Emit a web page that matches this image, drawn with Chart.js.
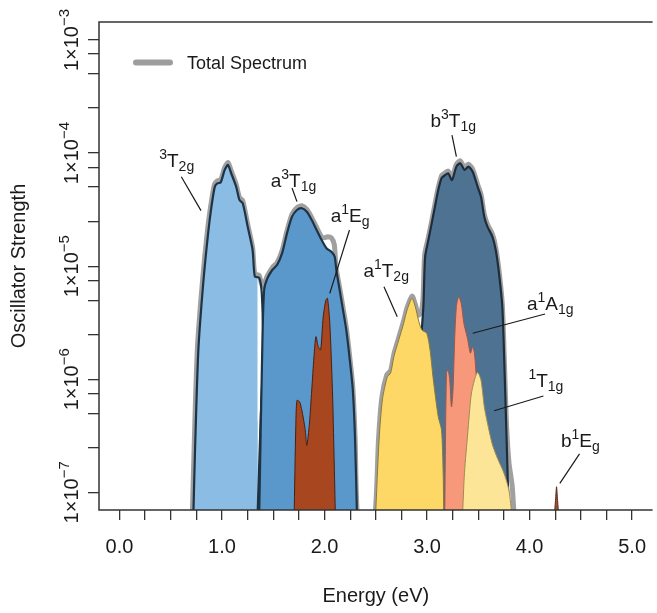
<!DOCTYPE html>
<html>
<head>
<meta charset="utf-8">
<script src="https://cdn.jsdelivr.net/npm/chart.js@4.4.1/dist/chart.umd.min.js"></script>
<style>
html, body { margin: 0; padding: 0; overflow: hidden; background: #fff; }
#wrap { width: 661px; height: 613px; position: relative; }
</style>
</head>
<body>
<div id="wrap"><canvas id="chart"></canvas></div>
<script>
// axis ticks
var xTickValues = [0, 0.25, 0.5, 0.75, 1, 1.25, 1.5, 1.75, 2, 2.25, 2.5, 2.75, 3, 3.25, 3.5, 3.75, 4, 4.25, 4.5, 4.75, 5];
var yLabelPowers = [-3, -4, -5, -6, -7];
var yMinorFactors = [2.5, 5, 7.5];

// spectra: [energy (eV), oscillator strength]
var totalSpectrum = [
  [0.71, 6e-8], [0.728, 2.5e-7], [0.76, 1.9e-6], [0.81, 7.5e-6], [0.858, 2.07e-5], [0.892, 3.5e-5],
  [0.927, 5.3e-5], [0.955, 5.7e-5], [0.987, 5.8e-5], [1.026, 7.45e-5], [1.058, 8.25e-5], [1.09, 6.95e-5],
  [1.138, 5.3e-5], [1.17, 4.05e-5], [1.202, 3.8e-5], [1.25, 2.35e-5], [1.298, 1.46e-5], [1.32, 8.5e-6],
  [1.362, 8.3e-6], [1.385, 7e-6], [1.40, 6.6e-6], [1.42, 7.3e-6], [1.442, 8.2e-6], [1.49, 9.7e-6],
  [1.538, 1.08e-5], [1.587, 1.38e-5], [1.635, 2.07e-5], [1.683, 2.88e-5], [1.731, 3.3e-5], [1.779, 3.42e-5],
  [1.827, 3.18e-5], [1.875, 2.69e-5], [1.923, 2.2e-5], [1.971, 1.82e-5], [2.0, 1.78e-5], [2.03, 1.82e-5],
  [2.067, 1.78e-5], [2.095, 1.55e-5], [2.112, 9.7e-6], [2.147, 6.5e-6], [2.18, 4.3e-6], [2.212, 2.87e-6],
  [2.243, 1.66e-6], [2.276, 8.4e-7], [2.298, 3.05e-7], [2.322, 6e-8], [2.40, 3e-8],
  [2.49, 6e-8], [2.527, 3e-7], [2.559, 6.9e-7], [2.608, 1.1e-6], [2.644, 1.19e-6], [2.676, 1.66e-6],
  [2.724, 2.34e-6], [2.772, 3.29e-6], [2.805, 4.3e-6], [2.853, 5.45e-6], [2.885, 4.6e-6], [2.916, 3.7e-6],
  [2.945, 4.0e-6], [2.962, 5.5e-6], [2.977, 1.27e-5], [3.013, 1.8e-5], [3.045, 2.5e-5], [3.077, 3.53e-5],
  [3.109, 4.95e-5], [3.141, 6.3e-5], [3.157, 6.5e-5], [3.205, 6.95e-5], [3.243, 6.07e-5], [3.286, 7.97e-5],
  [3.324, 8.54e-5], [3.365, 7.46e-5], [3.404, 7.97e-5], [3.445, 7.2e-5], [3.493, 5.3e-5], [3.526, 4.32e-5],
  [3.558, 2.88e-5], [3.589, 2.35e-5], [3.638, 1.91e-5], [3.67, 1.46e-5], [3.702, 9.1e-6], [3.734, 4.6e-6],
  [3.757, 1.2e-6], [3.776, 3.8e-7], [3.80, 1.8e-7], [3.83, 1.15e-7], [3.85, 6e-8]
];
var t2g = [
  [0.72, 6e-8], [0.737, 2.4e-7], [0.769, 1.8e-6], [0.817, 7.1e-6], [0.865, 1.97e-5], [0.897, 3.36e-5],
  [0.93, 5.05e-5], [0.955, 5.4e-5], [0.987, 5.5e-5], [1.026, 7.1e-5], [1.058, 7.85e-5], [1.09, 6.6e-5],
  [1.138, 5.05e-5], [1.17, 3.85e-5], [1.202, 3.6e-5], [1.25, 2.24e-5], [1.298, 1.39e-5], [1.32, 8.1e-6],
  [1.362, 7.9e-6], [1.385, 6.2e-6], [1.397, 3.6e-6], [1.404, 1.8e-6], [1.378, 4.7e-7], [1.346, 6e-8]
];
var a3t1g = [
  [1.362, 6e-8], [1.394, 2.2e-6], [1.411, 6.2e-6], [1.442, 7.8e-6], [1.49, 9.25e-6], [1.538, 1.03e-5],
  [1.587, 1.31e-5], [1.635, 1.97e-5], [1.683, 2.74e-5], [1.731, 3.14e-5], [1.779, 3.25e-5], [1.827, 3.03e-5],
  [1.875, 2.56e-5], [1.923, 2.09e-5], [1.971, 1.71e-5], [2.019, 1.44e-5], [2.067, 1.34e-5], [2.099, 1.21e-5],
  [2.115, 9.25e-6], [2.147, 6.2e-6], [2.18, 4.1e-6], [2.212, 2.73e-6], [2.243, 1.58e-6], [2.276, 8e-7],
  [2.298, 2.9e-7], [2.317, 6e-8]
];
var a1eg = [
  [1.703, 6e-8], [1.72, 4e-7], [1.731, 6.5e-7], [1.757, 6.3e-7], [1.779, 5.3e-7], [1.811, 3.6e-7],
  [1.827, 2.6e-7], [1.853, 4.1e-7], [1.875, 8e-7], [1.897, 1.58e-6], [1.916, 2.38e-6], [1.939, 1.94e-6],
  [1.962, 1.82e-6], [1.987, 3.57e-6], [2.013, 5.0e-6], [2.029, 5.2e-6], [2.051, 3.15e-6], [2.077, 8e-7],
  [2.093, 2.07e-7], [2.106, 6e-8]
];
var b3t1g = [
  [2.87, 6e-8], [2.90, 4e-7], [2.93, 1.6e-6], [2.964, 4.4e-6], [2.981, 1.21e-5], [3.013, 1.71e-5],
  [3.045, 2.39e-5], [3.077, 3.36e-5], [3.109, 4.72e-5], [3.141, 6.0e-5], [3.157, 6.19e-5], [3.205, 6.62e-5],
  [3.243, 5.78e-5], [3.286, 7.59e-5], [3.324, 8.13e-5], [3.365, 7.1e-5], [3.404, 7.59e-5], [3.445, 6.85e-5],
  [3.493, 5.05e-5], [3.526, 4.11e-5], [3.558, 2.74e-5], [3.589, 2.24e-5], [3.638, 1.82e-5], [3.67, 1.39e-5],
  [3.702, 8.65e-6], [3.734, 4.39e-6], [3.757, 1.13e-6], [3.776, 2.9e-7], [3.798, 6e-8]
];
var a1t2g = [
  [2.497, 6e-8], [2.532, 2.9e-7], [2.564, 6.56e-7], [2.612, 1.05e-6], [2.644, 1.13e-6], [2.676, 1.58e-6],
  [2.724, 2.23e-6], [2.772, 3.13e-6], [2.805, 4.1e-6], [2.853, 5.2e-6], [2.885, 4.39e-6], [2.916, 3.34e-6],
  [2.949, 2.73e-6], [2.997, 2.55e-6], [3.029, 1.82e-6], [3.061, 9.9e-7], [3.109, 4.67e-7], [3.141, 3.56e-7],
  [3.157, 1.49e-7], [3.163, 6e-8]
];
var a1a1g = [
  [3.172, 6e-8], [3.189, 1.13e-6], [3.205, 1.21e-6], [3.221, 9.9e-7], [3.238, 5.7e-7], [3.253, 8e-7],
  [3.269, 2.23e-6], [3.286, 4.39e-6], [3.308, 5.37e-6], [3.333, 4.7e-6], [3.359, 3.13e-6], [3.382, 2.55e-6],
  [3.397, 2.23e-6], [3.423, 1.7e-6], [3.445, 1.94e-6], [3.462, 1.7e-6], [3.478, 1.13e-6], [3.51, 4e-7],
  [3.54, 1.2e-7], [3.56, 6e-8]
];
var t1g = [
  [3.345, 6e-8], [3.365, 1.49e-7], [3.397, 3.35e-7], [3.43, 7.26e-7], [3.462, 9.86e-7], [3.493, 1.15e-6],
  [3.526, 9.86e-7], [3.558, 5.73e-7], [3.589, 4.11e-7], [3.638, 2.63e-7], [3.686, 2.01e-7], [3.75, 1.48e-7],
  [3.798, 1.05e-7], [3.83, 6e-8]
];
var b1eg = [
  [4.24, 6e-8], [4.253, 8.5e-8], [4.263, 1.12e-7], [4.273, 8.5e-8], [4.286, 6e-8]
];

// state labels: text parts, label anchor [x, y], leader line from / to
var stateLabels = [
  { parts: [['3', 'sup'], ['T', ''], ['2g', 'sub']], at: [0.558, 7.53e-5], from: [0.603, 6.18e-5], to: [0.795, 3.1e-5] },
  { parts: [['a', ''], ['3', 'sup'], ['T', ''], ['1g', 'sub']], at: [1.697, 5.01e-5], from: [1.683, 4.91e-5], to: [1.731, 3.72e-5] },
  { parts: [['a', ''], ['1', 'sup'], ['E', ''], ['g', 'sub']], at: [2.25, 2.46e-5], from: [2.243, 2.09e-5], to: [2.051, 5.75e-6] },
  { parts: [['a', ''], ['1', 'sup'], ['T', ''], ['2g', 'sub']], at: [2.601, 8.04e-6], from: [2.58, 6.59e-6], to: [2.709, 3.57e-6] },
  { parts: [['b', ''], ['3', 'sup'], ['T', ''], ['1g', 'sub']], at: [3.255, 1.7e-4], from: [3.243, 1.445e-4], to: [3.286, 9.29e-5] },
  { parts: [['a', ''], ['1', 'sup'], ['A', ''], ['1g', 'sub']], at: [4.202, 4.1e-6], from: [4.151, 3.78e-6], to: [3.445, 2.55e-6] },
  { parts: [['1', 'sup'], ['T', ''], ['1g', 'sub']], at: [4.159, 8.55e-7], from: [4.135, 7.11e-7], to: [3.654, 5.27e-7] },
  { parts: [['b', ''], ['1', 'sup'], ['E', ''], ['g', 'sub']], at: [4.495, 2.52e-7], from: [4.487, 2.19e-7], to: [4.295, 1.2e-7] }
];

var FONT = '"Liberation Sans", Arial, Helvetica, sans-serif';
var INK = '#1a1a1a';

function pts(arr) {
  return arr.map(function(p) { return { x: p[0], y: p[1] }; });
}

function area(label, data, fillCol, lineCol, lw, order) {
  return {
    label: label, data: pts(data), backgroundColor: fillCol, borderColor: lineCol,
    borderWidth: lw, fill: 'start', pointRadius: 0, tension: 0.25, order: order, clip: 0,
    borderJoinStyle: 'round'
  };
}

var overlay = {
  id: 'overlay',
  afterDraw: function(chart) {
    var ctx = chart.ctx, a = chart.chartArea, xs = chart.scales.x, ys = chart.scales.y;
    ctx.save();
    // plot box
    ctx.strokeStyle = '#333';
    ctx.lineWidth = 1.5;
    ctx.beginPath();
    ctx.moveTo(a.right, a.top);
    ctx.lineTo(a.left, a.top);
    ctx.lineTo(a.left, a.bottom);
    ctx.lineTo(a.right, a.bottom);
    ctx.stroke();

    ctx.fillStyle = INK;
    // y tick labels 1x10^n, rotated
    yLabelPowers.forEach(function(p) {
      var py = ys.getPixelForValue(Math.pow(10, p));
      ctx.save();
      ctx.translate(78, py);
      ctx.rotate(-Math.PI / 2);
      ctx.font = '20px ' + FONT;
      var main = '1\u00d710';
      var wm = ctx.measureText(main).width;
      ctx.font = '15px ' + FONT;
      var sup = '\u2212' + Math.abs(p);
      var ws = ctx.measureText(sup).width;
      var x0 = -(wm + ws) / 2;
      ctx.textBaseline = 'alphabetic';
      ctx.textAlign = 'left';
      ctx.font = '20px ' + FONT;
      ctx.fillText(main, x0, 0);
      ctx.font = '15px ' + FONT;
      ctx.fillText(sup, x0 + wm, -9);
      ctx.restore();
    });

    // axis titles
    ctx.font = '20px ' + FONT;
    ctx.textAlign = 'center';
    ctx.textBaseline = 'alphabetic';
    ctx.fillText('Energy (eV)', (a.left + a.right) / 2, 602);
    ctx.save();
    ctx.translate(25, (a.top + a.bottom) / 2);
    ctx.rotate(-Math.PI / 2);
    ctx.fillText('Oscillator Strength', 0, 0);
    ctx.restore();

    // legend
    ctx.strokeStyle = '#9d9d9d';
    ctx.lineWidth = 6;
    ctx.lineCap = 'round';
    ctx.beginPath();
    ctx.moveTo(136, 62.5);
    ctx.lineTo(170, 62.5);
    ctx.stroke();
    ctx.lineCap = 'butt';
    ctx.font = '18px ' + FONT;
    ctx.textAlign = 'left';
    ctx.fillText('Total Spectrum', 187, 69);

    // state labels with leader lines
    stateLabels.forEach(function(l) {
      ctx.strokeStyle = INK;
      ctx.lineWidth = 1.2;
      ctx.beginPath();
      ctx.moveTo(xs.getPixelForValue(l.from[0]), ys.getPixelForValue(l.from[1]));
      ctx.lineTo(xs.getPixelForValue(l.to[0]), ys.getPixelForValue(l.to[1]));
      ctx.stroke();
      var widths = l.parts.map(function(p) {
        ctx.font = (p[1] ? '14px ' : '19px ') + FONT;
        return ctx.measureText(p[0]).width;
      });
      var w = widths.reduce(function(s, v) { return s + v; }, 0);
      var x = xs.getPixelForValue(l.at[0]) - w / 2;
      var y = ys.getPixelForValue(l.at[1]);
      ctx.textAlign = 'left';
      l.parts.forEach(function(p, i) {
        ctx.font = (p[1] ? '14px ' : '19px ') + FONT;
        var dy = p[1] === 'sup' ? -8 : (p[1] === 'sub' ? 4 : 0);
        ctx.fillText(p[0], x, y + dy);
        x += widths[i];
      });
    });
    ctx.restore();
  }
};

var ctx = document.getElementById('chart').getContext('2d');
var chart = new Chart(ctx, {
  type: 'line',
  data: {
    datasets: [
      { label: 'Total Spectrum', data: pts(totalSpectrum), borderColor: '#a0a0a0', borderWidth: 5,
        fill: false, pointRadius: 0, tension: 0.25, order: 100, clip: 0,
        borderCapStyle: 'round', borderJoinStyle: 'round' },
      area('3T2g', t2g, '#8bbde4', '#1d3346', 2.2, 90),
      area('a3T1g', a3t1g, '#5a97ca', '#1d3346', 2.2, 80),
      area('a1Eg', a1eg, '#a8461f', '#4a2010', 1, 70),
      area('b3T1g', b3t1g, '#4e7292', '#1d2d3b', 2.2, 60),
      area('a1T2g', a1t2g, '#fdd866', '#8a7a3a', 1, 50),
      area('a1A1g', a1a1g, '#f7987a', '#9a5a48', 1, 40),
      area('1T1g', t1g, '#fde598', '#a08a50', 1, 30),
      area('b1Eg', b1eg, '#9a5035', '#5a2a1a', 1, 20)
    ]
  },
  options: {
    responsive: true,
    maintainAspectRatio: false,
    animation: false,
    layout: { padding: { top: 22, right: 0, left: 0, bottom: 0 } },
    plugins: { legend: { display: false }, tooltip: { enabled: false } },
    scales: {
      x: {
        type: 'linear', min: -0.2, max: 5.2, bounds: 'data',
        afterBuildTicks: function(s) { s.ticks = xTickValues.map(function(v) { return { value: v }; }); },
        afterFit: function(s) { s.height = 103; },
        border: { display: false },
        grid: { drawOnChartArea: false, drawTicks: true, tickLength: 10, color: '#333', lineWidth: 1.3 },
        ticks: {
          autoSkip: false, maxRotation: 0, padding: 15, color: INK,
          font: { family: FONT, size: 20 },
          callback: function(v) { return v % 1 === 0 ? v.toFixed(1) : ''; }
        }
      },
      y: {
        type: 'logarithmic', min: 6.98e-8, max: 1.443e-3, bounds: 'data',
        afterBuildTicks: function(s) {
          var t = [];
          yLabelPowers.forEach(function(p) {
            t.push({ value: Math.pow(10, p) });
            if (p < -3) yMinorFactors.forEach(function(f) { t.push({ value: f * Math.pow(10, p) }); });
          });
          s.ticks = t;
        },
        afterFit: function(s) { s.width = 99; },
        border: { display: false },
        grid: { drawOnChartArea: false, drawTicks: true, tickLength: 11, color: '#333', lineWidth: 1.3 },
        ticks: { display: false }
      }
    }
  },
  plugins: [overlay]
});
</script>
</body>
</html>
